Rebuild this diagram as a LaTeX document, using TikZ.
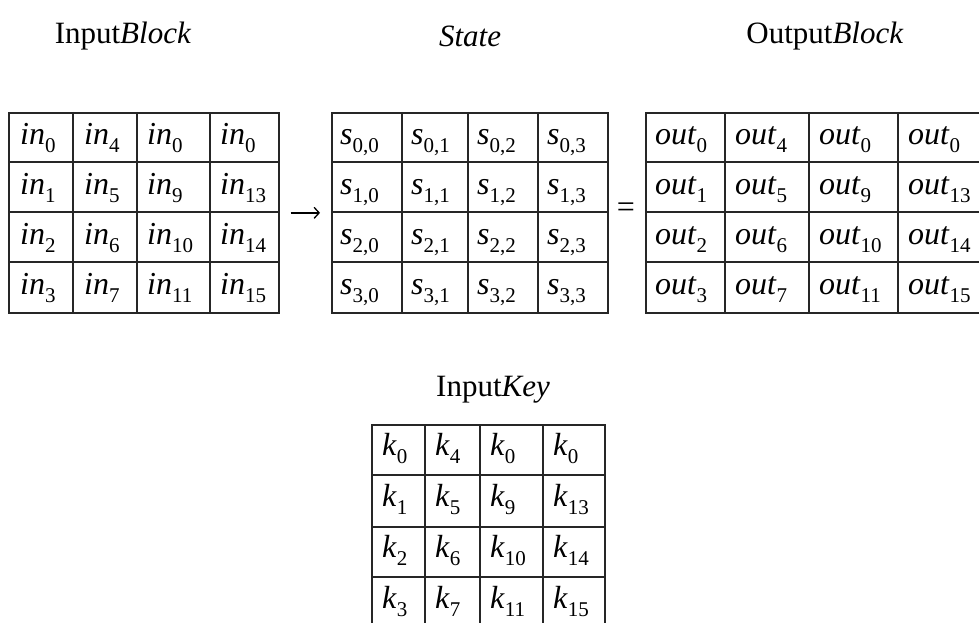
\documentclass[tikz,border=0pt]{standalone}
\usepackage{fontspec}
\setmainfont{Liberation Serif}
\usetikzlibrary{arrows.meta}
% italic letter with an upright, lowered index
\newcommand\cv[2]{\textit{#1}\raisebox{-0.26em}{\fontsize{21}{21}\selectfont #2}}
\begin{document}
\begin{tikzpicture}[x=1pt,y=-1pt,
  gridline/.style={line width=1.7pt, draw=black!85},
  frame/.style={gridline, inner sep=0pt, anchor=north west},
  celltext/.style={anchor=base west, inner sep=0pt, font=\fontsize{32}{36}\selectfont},
  title/.style={inner sep=0pt, font=\fontsize{31}{34}\selectfont}]
\useasboundingbox (0,0) rectangle (979,623);

% titles
\node[title] (tIn)  at (123,36) {Input\textit{Block}};
\node[title] (tSt)  at (470,36) {\textit{State}};
\node[title] (tOut) at (825,36) {Output\textit{Block}};
\node[title] (tKey) at (493,390) {Input\textit{Key}};

% input block
\node[frame, minimum width=270pt, minimum height=200pt] (inGrid) at (8,112) {};
\foreach \x in {73,137,210} \draw[gridline] (\x,112) -- (\x,312);
\foreach \y in {162,212,262} \draw[gridline] (8,\y) -- (278,\y);
\foreach \r/\a/\b/\c/\d in {0/0/4/0/0, 1/1/5/9/13, 2/2/6/10/14, 3/3/7/11/15} {
  \pgfmathsetmacro\yb{112+50*\r+32}
  \node[celltext] (in-\r-0) at (20,\yb)  {\cv{in}{\a}};
  \node[celltext] (in-\r-1) at (84,\yb)  {\cv{in}{\b}};
  \node[celltext] (in-\r-2) at (147,\yb) {\cv{in}{\c}};
  \node[celltext] (in-\r-3) at (220,\yb) {\cv{in}{\d}};
}

% state
\node[frame, minimum width=276pt, minimum height=200pt] (stGrid) at (331,112) {};
\foreach \x in {402,468,538} \draw[gridline] (\x,112) -- (\x,312);
\foreach \y in {162,212,262} \draw[gridline] (331,\y) -- (607,\y);
\foreach \r in {0,1,2,3} {
  \pgfmathsetmacro\yb{112+50*\r+32}
  \node[celltext] (st-\r-0) at (340,\yb) {\cv{s}{\r,0}};
  \node[celltext] (st-\r-1) at (411,\yb) {\cv{s}{\r,1}};
  \node[celltext] (st-\r-2) at (477,\yb) {\cv{s}{\r,2}};
  \node[celltext] (st-\r-3) at (547,\yb) {\cv{s}{\r,3}};
}

% output block
\node[frame, minimum width=340pt, minimum height=200pt] (outGrid) at (645,112) {};
\foreach \x in {725,809,898} \draw[gridline] (\x,112) -- (\x,312);
\foreach \y in {162,212,262} \draw[gridline] (645,\y) -- (985,\y);
\foreach \r/\a/\b/\c/\d in {0/0/4/0/0, 1/1/5/9/13, 2/2/6/10/14, 3/3/7/11/15} {
  \pgfmathsetmacro\yb{112+50*\r+32}
  \node[celltext] (out-\r-0) at (655,\yb) {\cv{out}{\a}};
  \node[celltext] (out-\r-1) at (735,\yb) {\cv{out}{\b}};
  \node[celltext] (out-\r-2) at (819,\yb) {\cv{out}{\c}};
  \node[celltext] (out-\r-3) at (908,\yb) {\cv{out}{\d}};
}

% key
\node[frame, minimum width=233pt, minimum height=204pt] (keyGrid) at (371,424) {};
\foreach \x in {425,480,543} \draw[gridline] (\x,424) -- (\x,628);
\foreach \y in {475,527,577} \draw[gridline] (371,\y) -- (604,\y);
\foreach \r/\a/\b/\c/\d in {0/0/4/0/0, 1/1/5/9/13, 2/2/6/10/14, 3/3/7/11/15} {
  \pgfmathsetmacro\yb{424+51*\r+31}
  \node[celltext] (k-\r-0) at (382,\yb) {\cv{k}{\a}};
  \node[celltext] (k-\r-1) at (435,\yb) {\cv{k}{\b}};
  \node[celltext] (k-\r-2) at (490,\yb) {\cv{k}{\c}};
  \node[celltext] (k-\r-3) at (553,\yb) {\cv{k}{\d}};
}

% operators between the blocks
\draw[line width=1.3pt, -{Straight Barb[length=5pt,width=11pt]}, shorten <=11pt, shorten >=11pt]
  (inGrid.east) -- (stGrid.west);
\node[inner sep=0pt, font=\fontsize{32}{36}\selectfont] (eq) at (626,210) {=};
\end{tikzpicture}
\end{document}
